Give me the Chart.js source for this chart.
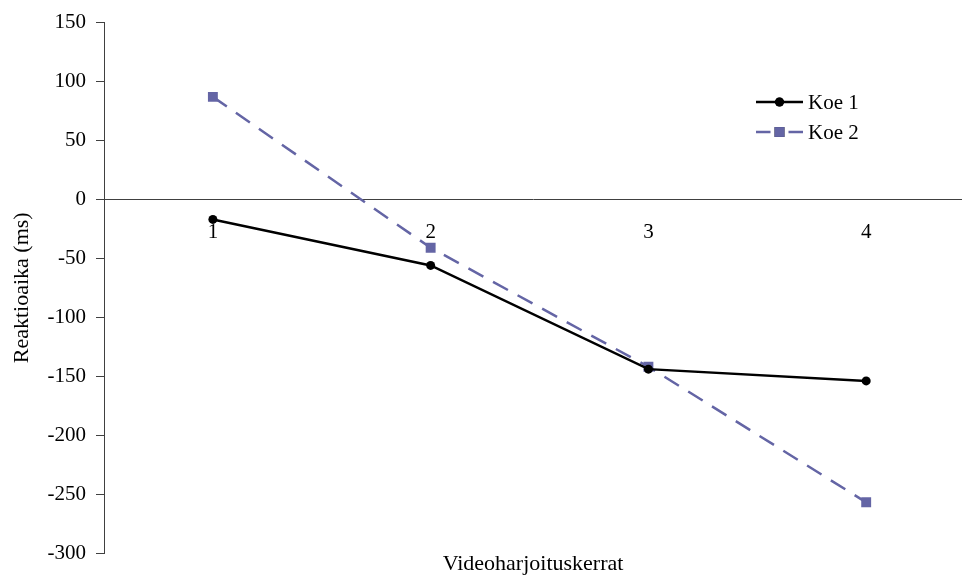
<!DOCTYPE html>
<html>
<head>
<meta charset="utf-8">
<script src="https://cdn.jsdelivr.net/npm/chart.js@4"></script>
<style>
  body { margin: 0; background: #fff; }
  #wrap { width: 962px; height: 579px; }
</style>
</head>
<body>
<div id="wrap"><canvas id="chart" width="962" height="579"></canvas></div>
<script>
// chart values
const categories = [1, 2, 3, 4];
const koe1 = [-17, -56, -144, -154];
const koe2 = [87, -41, -142, -257];
const seriesNames = ["Koe 1", "Koe 2"];
const yTicks = [-300, -250, -200, -150, -100, -50, 0, 50, 100, 150];

const serif = "'Liberation Serif', 'Times New Roman', serif";
const axisColor = "#404040";
const blue = "#6465a5";

function toPoints(values) {
  return categories.map((c, i) => ({ x: c, y: values[i] }));
}

// legend drawn by hand: line with marker in the middle, like the Excel one
const legendPlugin = {
  id: "sideLegend",
  afterDraw(chart) {
    const ctx = chart.ctx;
    const x0 = 756, x1 = 803, rows = [102, 132];
    chart.data.datasets.forEach((ds, i) => {
      const y = rows[i];
      const mid = (x0 + x1) / 2;
      ctx.save();
      ctx.strokeStyle = ds.borderColor;
      ctx.lineWidth = ds.borderWidth;
      ctx.beginPath();
      if (ds.borderDash && ds.borderDash.length) {
        ctx.moveTo(x0, y); ctx.lineTo(mid - 9, y);
        ctx.moveTo(mid + 9, y); ctx.lineTo(x1, y);
      } else {
        ctx.moveTo(x0, y); ctx.lineTo(x1, y);
      }
      ctx.stroke();
      Chart.helpers.drawPoint(ctx, {
        pointStyle: ds.pointStyle,
        radius: ds.pointRadius,
        borderWidth: 0
      }, mid, y);
      ctx.fillStyle = ds.pointBackgroundColor;
      ctx.fill();
      ctx.fillStyle = "#000";
      ctx.font = "21px " + serif;
      ctx.textBaseline = "middle";
      ctx.textAlign = "left";
      ctx.fillText(ds.label, 808, y + 1);
      ctx.restore();
    });
  }
};

const ctx = document.getElementById("chart").getContext("2d");

new Chart(ctx, {
  type: "line",
  data: {
    datasets: [
      {
        label: seriesNames[0],
        data: toPoints(koe1),
        borderColor: "#000",
        backgroundColor: "#000",
        pointBackgroundColor: "#000",
        borderWidth: 2.5,
        pointStyle: "circle",
        pointRadius: 4.5,
        pointBorderWidth: 0,
        tension: 0
      },
      {
        label: seriesNames[1],
        data: toPoints(koe2),
        borderColor: blue,
        backgroundColor: blue,
        pointBackgroundColor: blue,
        borderWidth: 2.5,
        borderDash: [17, 11],
        pointStyle: "rect",
        pointRadius: 7,
        pointBorderWidth: 0,
        tension: 0
      }
    ]
  },
  options: {
    responsive: false,
    animation: false,
    devicePixelRatio: 1,
    layout: { autoPadding: false, padding: { top: 22, left: 0, right: 0, bottom: 0 } },
    plugins: {
      legend: { display: false },
      tooltip: { enabled: false }
    },
    scales: {
      x: {
        type: "linear",
        position: { y: 0 },
        min: 0.5,
        max: 4.44,
        afterBuildTicks: s => { s.ticks = categories.map(v => ({ value: v })); },
        grid: { display: false, drawTicks: false },
        border: { display: true, color: axisColor, width: 1 },
        ticks: {
          color: "#000",
          padding: 20,
          maxRotation: 0,
          font: { family: serif, size: 21 }
        }
      },
      x2: {
        type: "linear",
        position: "bottom",
        grid: { display: false, drawTicks: false },
        border: { display: false },
        ticks: { display: false },
        afterFit: s => { s.height = 26; },
        title: {
          display: true,
          text: "Videoharjoituskerrat",
          color: "#000",
          font: { family: serif, size: 22 },
          padding: { top: 0, bottom: 2 }
        }
      },
      y: {
        min: -300,
        max: 150,
        afterBuildTicks: s => { s.ticks = yTicks.map(v => ({ value: v })); },
        afterFit: s => { s.width = 104; },
        grid: {
          display: true,
          drawOnChartArea: false,
          drawTicks: true,
          tickLength: 8,
          color: axisColor
        },
        border: { display: true, color: axisColor, width: 1 },
        ticks: {
          color: "#000",
          padding: 10,
          font: { family: serif, size: 21 }
        },
        title: {
          display: true,
          text: "Reaktioaika (ms)",
          color: "#000",
          font: { family: serif, size: 22 },
          padding: { top: 9, bottom: 0 }
        }
      }
    }
  },
  plugins: [legendPlugin]
});
</script>
</body>
</html>
